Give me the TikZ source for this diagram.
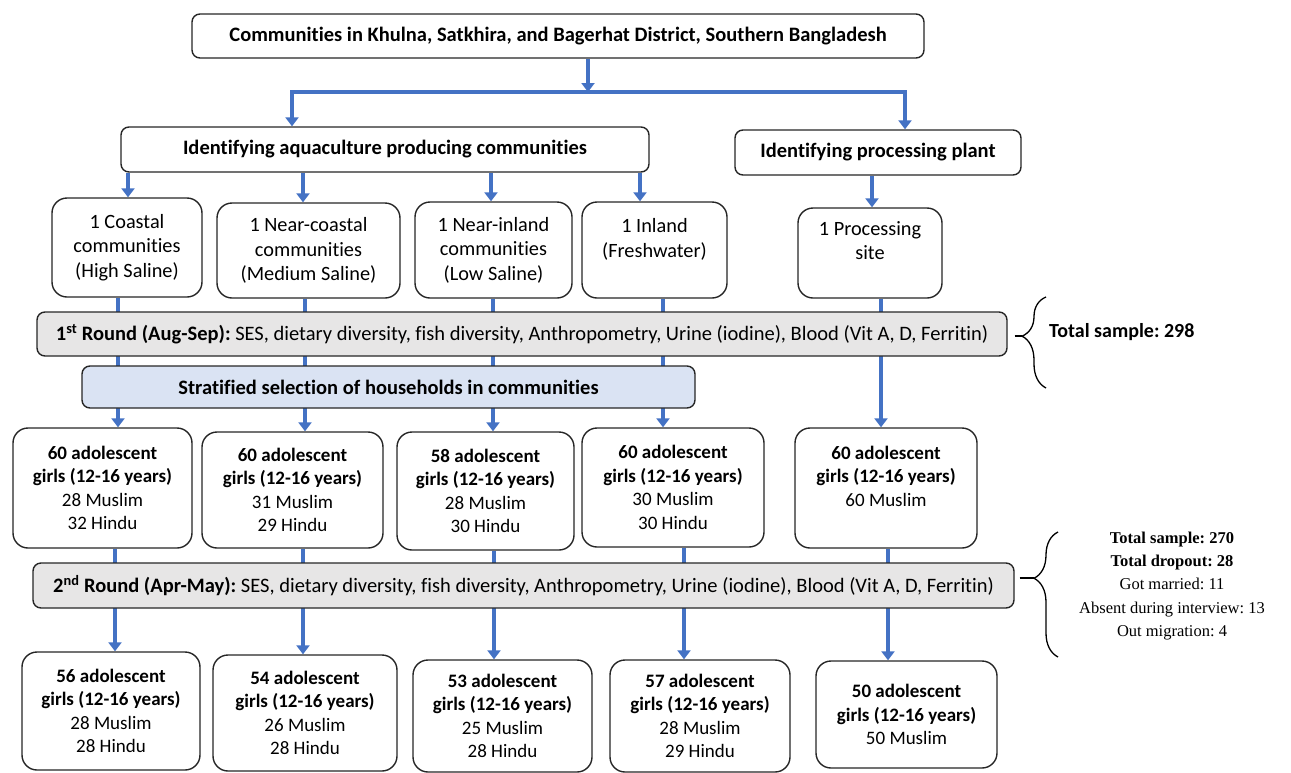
\documentclass[tikz,border=0pt]{standalone}
\usepackage{fontspec}
\setmainfont{Carlito}[Ligatures=NoCommon]
\newfontfamily\notefont{Liberation Serif}
\usepackage{tikz}
\usetikzlibrary{arrows.meta}
\usetikzlibrary{backgrounds}
\usetikzlibrary{decorations.pathreplacing}
\definecolor{flowblue}{HTML}{4472C4}
\definecolor{roundgray}{HTML}{E7E6E6}
\definecolor{stratblue}{HTML}{DAE3F3}
\frenchspacing
\tikzset{
  box/.style={draw=black!85, line width=1.4pt, rounded corners=15pt, fill=white,
    align=center, inner sep=0pt, font=\fontsize{19}{23.5}\selectfont},
  sitebox/.style={box, font=\fontsize{20.3}{24.5}\selectfont},
  flatbox/.style={box, rounded corners=8pt, font=\fontsize{20.5}{24}\selectfont\bfseries},
  roundbox/.style={flatbox, fill=roundgray, font=\fontsize{20.5}{24}\selectfont},
  link/.style={draw=flowblue, line width=4.5pt, -{Triangle[length=9pt,width=13pt]}},
  trunk/.style={draw=flowblue, line width=4.5pt},
  sumbrace/.style={draw, line width=1.3pt, decorate, decoration={brace, amplitude=24pt, aspect=#1}}
}

\begin{document}
\begin{tikzpicture}[x=1pt,y=-1pt]
    \useasboundingbox (0,0) rectangle (1291,772);
    \node[flatbox, minimum width=732, minimum height=44] (top) at (558,36)
      {Communities in Khulna, Satkhira, and Bagerhat District, Southern Bangladesh};
    \node[flatbox, minimum width=528, minimum height=45] (aqua) at (385,149.5)
      {Identifying aquaculture producing communities};
    \node[flatbox, minimum width=286, minimum height=45] (plant) at (878,152.5)
      {Identifying processing plant};
    \node[sitebox, minimum width=150, minimum height=99] (c1) at (127,247.5) {1 Coastal\\communities\\(High Saline)};
    \node[sitebox, minimum width=183, minimum height=95] (c2) at (308.5,250.5) {1 Near-coastal\\communities\\(Medium Saline)};
    \node[sitebox, minimum width=157, minimum height=96] (c3) at (493.5,250) {1 Near-inland\\communities\\(Low Saline)};
    \node[sitebox, minimum width=145, minimum height=96] (c4) at (654.5,250) {1 Inland\\(Freshwater)\\\mbox{}};
    \node[sitebox, minimum width=144, minimum height=90] (c5) at (870,253) {1 Processing\\site\\\mbox{}};
    \node[roundbox, minimum width=970, minimum height=44] (round1) at (522,334)
      {\textbf{1\textsuperscript{st} Round (Aug-Sep):} SES, dietary diversity, fish diversity, Anthropometry, Urine (iodine), Blood (Vit A, D, Ferritin)};
    \node[flatbox, fill=stratblue, minimum width=613, minimum height=42] (strat) at (388.5,387)
      {Stratified selection of households in communities};
    \node[box, minimum width=179, minimum height=120] (g1) at (102.5,488) {\textbf{60 adolescent}\\\textbf{girls (12-16 years)}\\28 Muslim\\32 Hindu};
    \node[box, minimum width=181, minimum height=116] (g2) at (292.5,490) {\textbf{60 adolescent}\\\textbf{girls (12-16 years)}\\31 Muslim\\29 Hindu};
    \node[box, minimum width=177, minimum height=118] (g3) at (485.5,491) {\textbf{58 adolescent}\\\textbf{girls (12-16 years)}\\28 Muslim\\30 Hindu};
    \node[box, minimum width=182, minimum height=119] (g4) at (673,487.5) {\textbf{60 adolescent}\\\textbf{girls (12-16 years)}\\30 Muslim\\30 Hindu};
    \node[box, minimum width=182, minimum height=120] (g5) at (886,488) {\textbf{60 adolescent}\\\textbf{girls (12-16 years)}\\60 Muslim\\\mbox{}};
    \node[roundbox, minimum width=981, minimum height=45] (round2) at (523.5,585.5)
      {\textbf{2\textsuperscript{nd} Round (Apr-May):} SES, dietary diversity, fish diversity, Anthropometry, Urine (iodine), Blood (Vit A, D, Ferritin)};
    \node[box, minimum width=178, minimum height=118] (h1) at (111,711) {\textbf{56 adolescent}\\\textbf{girls (12-16 years)}\\28 Muslim\\28 Hindu};
    \node[box, minimum width=184, minimum height=116] (h2) at (305,713) {\textbf{54 adolescent}\\\textbf{girls (12-16 years)}\\26 Muslim\\28 Hindu};
    \node[box, minimum width=179, minimum height=112] (h3) at (502.5,716) {\textbf{53 adolescent}\\\textbf{girls (12-16 years)}\\25 Muslim\\28 Hindu};
    \node[box, minimum width=180, minimum height=112] (h4) at (700,716) {\textbf{57 adolescent}\\\textbf{girls (12-16 years)}\\28 Muslim\\29 Hindu};
    \node[box, minimum width=181, minimum height=107] (h5) at (906.5,714.5) {\textbf{50 adolescent}\\\textbf{girls (12-16 years)}\\50 Muslim};
    \node[anchor=west, inner sep=0pt, font=\fontsize{20}{24}\selectfont\bfseries] (total1) at (1049,332) {Total sample: 298};
    \node[align=center, inner sep=0pt, font=\notefont\fontsize{16.5}{23.3}\selectfont] (total2) at (1172,586)
      {\textbf{Total sample: 270}\\\textbf{Total dropout: 28}\\Got married: 11\\Absent during interview: 13\\Out migration: 4};
    \draw[sumbrace=0.57] (1046,388) -- (1046,297);
    \draw[sumbrace=0.63] (1058,657) -- (1058,532);
    \coordinate (tip1) at (1022,336);
    \coordinate (tip2) at (1034,578);
    \draw[line width=1.3pt, shorten <=7pt] (round1.east |- tip1) -- (tip1);
    \draw[line width=1.3pt, shorten <=5pt] (round2.east |- tip2) -- (tip2);
    \begin{pgfonlayer}{background}
      \coordinate (barL) at (292,92);
      \coordinate (barM) at (588,92);
      \coordinate (barR) at (905,92);
      \draw[link] (top.south -| barM) -- (barM);
      \draw[trunk, line cap=rect] (barL) -- (barR);
      \draw[link] (barL) -- (aqua.north -| barL);
      \draw[link] (barR) -- (plant.north -| barR);
      \foreach \n/\x in {c1/128,c2/303,c3/491,c4/640}
      {
        \coordinate (k) at (\x,0);
        \draw[link] (aqua.south -| k) -- (\n.north -| k);
      }
      \coordinate (k) at (872,0);
      \draw[link] (plant.south -| k) -- (c5.north -| k);
      \foreach \a/\b/\x in {c1/g1/118,c2/g2/305,c3/g3/493,c4/g4/663,c5/g5/881}
      {
        \coordinate (k) at (\x,0);
        \draw[link] (\a.south -| k) -- (\b.north -| k);
      }
      \foreach \a/\b/\x in {g1/h1/115,g2/h2/303,g3/h3/494,g4/h4/684,g5/h5/888}
      {
        \coordinate (k) at (\x,0);
        \draw[link] (\a.south -| k) -- (\b.north -| k);
      }
    \end{pgfonlayer}
\end{tikzpicture}
\end{document}
